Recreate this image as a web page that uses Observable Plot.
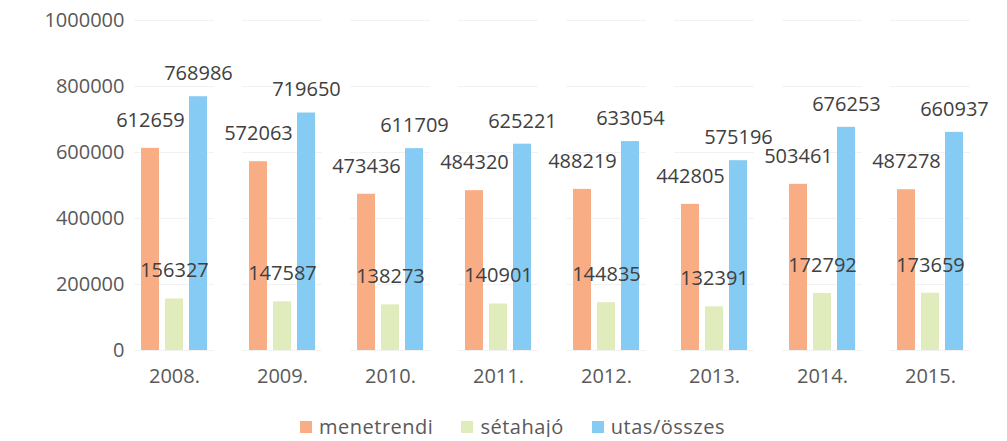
<!DOCTYPE html>
<html>
<head>
<meta charset="utf-8">
<script src="https://cdn.jsdelivr.net/npm/d3@7"></script>
<script src="https://cdn.jsdelivr.net/npm/@observablehq/plot@0.6"></script>
<style>
  body { margin: 0; background: #fff; font-family: "Open Sans", sans-serif; overflow: hidden; }
  #legend { display: flex; justify-content: center; align-items: center; gap: 28px; height: 20px; line-height: 20px; margin-top: 17px; font-size: 20px; letter-spacing: 0.5px; color: #595959; padding-left: 18px; }
  #legend .item { display: flex; align-items: center; gap: 7px; }
  #legend .sw { width: 12px; height: 12px; display: inline-block; }
</style>
</head>
<body>
<div id="chart"></div>
<div id="legend"></div>
<script>
const years = ["2008.", "2009.", "2010.", "2011.", "2012.", "2013.", "2014.", "2015."];
const series = ["menetrendi", "sétahajó", "utas/összes"];
const menetrendi = [612659, 572063, 473436, 484320, 488219, 442805, 503461, 487278];
const setahajo = [156327, 147587, 138273, 140901, 144835, 132391, 172792, 173659];
const utasOsszes = [768986, 719650, 611709, 625221, 633054, 575196, 676253, 660937];
const colors = ["#F9AD85", "#E1ECBD", "#85CBF3"];
const yTicks = [0, 200000, 400000, 600000, 800000, 1000000];

const columns = [menetrendi, setahajo, utasOsszes];
const data = [];
years.forEach((yr, i) => series.forEach((s, j) => data.push({year: yr, series: s, value: columns[j][i]})));

const labelOffsets = {"menetrendi": -28, "sétahajó": -28, "utas/összes": -23};

const plot = Plot.plot({
  width: 1007,
  height: 400,
  marginLeft: 104,
  marginRight: 6,
  marginTop: 20,
  marginBottom: 50,
  style: {fontSize: "20px", fontFamily: "Open Sans, sans-serif", color: "#595959", background: "#fff"},
  fx: {domain: years, paddingInner: 0.255, paddingOuter: 0.255, label: null},
  x: {domain: series, padding: 0.24, axis: null},
  y: {domain: [0, 1000000], ticks: yTicks, label: null},
  color: {domain: series, range: colors},
  marks: [
    Plot.gridY(yTicks, {stroke: "#e6e6e6", strokeOpacity: 0.5}),
    Plot.axisY(yTicks, {tickSize: 0, tickPadding: 10, tickFormat: d => String(d), fontSize: 20, fill: "#595959", label: null}),
    Plot.axisFx({anchor: "bottom", tickSize: 0, tickPadding: 18, fontSize: 20, fill: "#595959", label: null}),
    Plot.barY(data, {fx: "year", x: "series", y: "value", fill: "series"}),
    ...series.map(s => Plot.text(data.filter(d => d.series === s), {
      fx: "year", x: "series", y: "value", text: d => String(d.value),
      dy: labelOffsets[s], fill: "#404040", fontSize: 20
    }))
  ]
});
document.getElementById("chart").appendChild(plot);

const legend = document.getElementById("legend");
series.forEach((s, i) => {
  const item = document.createElement("span");
  item.className = "item";
  const sw = document.createElement("span");
  sw.className = "sw";
  sw.style.background = colors[i];
  item.appendChild(sw);
  item.appendChild(document.createTextNode(s));
  legend.appendChild(item);
});
</script>
</body>
</html>
